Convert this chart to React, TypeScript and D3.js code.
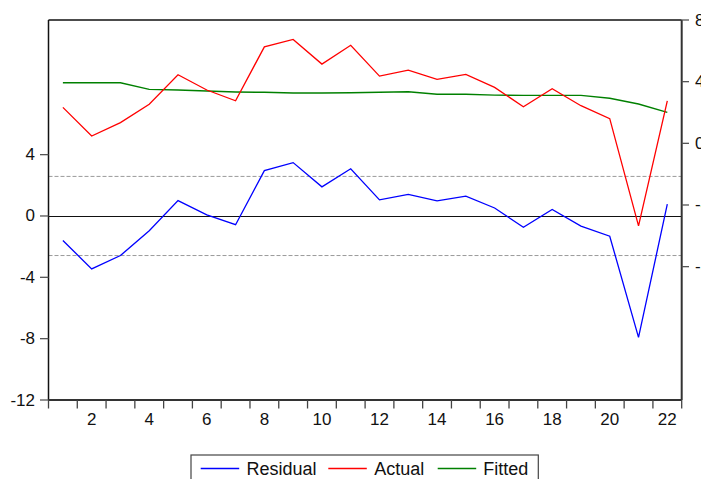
import React from "react";
import * as d3 from "d3";

// Observations 1..22
const observations: number[] = d3.range(1, 23);

// Actual and fitted values (right axis)
const actual: number[] = [
  2.33, 0.47, 1.34, 2.53, 4.45, 3.46, 2.76, 6.26, 6.74, 5.14, 6.36,
  4.36, 4.75, 4.15, 4.47, 3.63, 2.37, 3.54, 2.44, 1.6, -5.36, 2.76,
];
const fitted: number[] = [
  3.93, 3.93, 3.93, 3.5, 3.46, 3.39, 3.33, 3.31, 3.26, 3.26, 3.28,
  3.31, 3.35, 3.18, 3.18, 3.13, 3.11, 3.11, 3.11, 2.92, 2.55, 2.01,
];
// Residuals (left axis)
const residual: number[] = [
  -1.6, -3.45, -2.58, -0.96, 1.0, 0.07, -0.57, 2.96, 3.48, 1.9, 3.08,
  1.05, 1.41, 0.98, 1.29, 0.52, -0.74, 0.43, -0.66, -1.32, -7.92, 0.77,
];

// Residual standard error band
const residualBand = 2.58;

const leftTicks: number[] = [4, 0, -4, -8, -12];
const rightTicks: number[] = [8, 4, 0, -4, -8];
const xLabels: number[] = [2, 4, 6, 8, 10, 12, 14, 16, 18, 20, 22];

const seriesNames = ["Residual", "Actual", "Fitted"];
const seriesColors = ["#0000ff", "#ff0000", "#008000"];

const W = 701;
const H = 479;
const left = 48.5;
const right = 681.7;
const top = 20;
const bottom = 400;

const FONT = "'Liberation Sans', Arial, sans-serif";

export default function App() {
  const x = d3.scaleLinear().domain([0.5, 22.5]).range([left, right]);
  const yL = d3.scaleLinear().domain([-12, 12.78]).range([bottom, top]);
  const yR = d3.scaleLinear().domain([-16.65, 8]).range([bottom, top]);

  const lineL = d3
    .line<number>()
    .x((_, i) => x(observations[i]))
    .y((d) => yL(d));
  const lineR = d3
    .line<number>()
    .x((_, i) => x(observations[i]))
    .y((d) => yR(d));

  const boundaries = d3.range(0, 23).map((i) => i + 0.5);

  // legend layout
  const legendY = 468.5;
  const legendItems = [
    { lx: 200.7, tx: 246.5 },
    { lx: 328.3, tx: 374.3 },
    { lx: 437.7, tx: 483.3 },
  ];

  return (
    <svg
      width={W}
      height={H}
      style={{ position: "absolute", left: 0, top: 0, background: "#fff" }}
      fontFamily={FONT}
    >
      {/* residual band lines */}
      {[residualBand, -residualBand].map((v) => (
        <line
          key={v}
          x1={left}
          x2={right}
          y1={yL(v)}
          y2={yL(v)}
          stroke="#9a9a9a"
          strokeWidth={1}
          strokeDasharray="4,2"
        />
      ))}
      {/* zero line */}
      <line x1={left} x2={right} y1={Math.round(yL(0)) + 0.5} y2={Math.round(yL(0)) + 0.5} stroke="#111" strokeWidth={1.2} />

      {/* series */}
      <path d={lineR(fitted) || ""} fill="none" stroke={seriesColors[2]} strokeWidth={1.4} />
      <path d={lineR(actual) || ""} fill="none" stroke={seriesColors[1]} strokeWidth={1.3} />
      <path d={lineL(residual) || ""} fill="none" stroke={seriesColors[0]} strokeWidth={1.3} />

      {/* frame */}
      <line x1={left} x2={right} y1={top} y2={top} stroke="#111" strokeWidth={1.5} />
      <line x1={left} x2={left} y1={top} y2={bottom} stroke="#111" strokeWidth={1.5} />
      <line x1={right} x2={right} y1={top} y2={bottom} stroke="#333" strokeWidth={2} />
      <line x1={left} x2={right} y1={bottom} y2={bottom} stroke="#333" strokeWidth={1.8} />

      {/* left axis */}
      {leftTicks.map((t) => (
        <g key={`l${t}`}>
          <line x1={40} x2={left} y1={yL(t)} y2={yL(t)} stroke="#555" strokeWidth={1.3} />
          <text
            x={35}
            y={yL(t)}
            textAnchor="end"
            dominantBaseline="central"
            fontSize={17}
            fill="#111"
          >
            {t}
          </text>
        </g>
      ))}

      {/* right axis */}
      {rightTicks.map((t) => (
        <g key={`r${t}`}>
          <line x1={right} x2={689} y1={yR(t)} y2={yR(t)} stroke="#555" strokeWidth={1.3} />
          <text
            x={695}
            y={yR(t)}
            textAnchor="start"
            dominantBaseline="central"
            fontSize={17}
            fill="#111"
          >
            {t}
          </text>
        </g>
      ))}

      {/* bottom axis */}
      {boundaries.map((b) => (
        <line key={`b${b}`} x1={x(b)} x2={x(b)} y1={bottom} y2={408.5} stroke="#444" strokeWidth={1.3} />
      ))}
      {xLabels.map((v) => (
        <text key={`x${v}`} x={x(v)} y={424.5} textAnchor="middle" fontSize={17} fill="#111">
          {v}
        </text>
      ))}

      {/* legend */}
      <rect x={191} y={455} width={347.3} height={34} fill="#fff" stroke="#444" strokeWidth={1.2} />
      {seriesNames.map((name, i) => (
        <g key={name}>
          <line
            x1={legendItems[i].lx}
            x2={legendItems[i].lx + 38.5}
            y1={legendY}
            y2={legendY}
            stroke={seriesColors[i]}
            strokeWidth={1.3}
          />
          <text x={legendItems[i].tx} y={474.5} fontSize={18} fill="#111">
            {name}
          </text>
        </g>
      ))}
    </svg>
  );
}
